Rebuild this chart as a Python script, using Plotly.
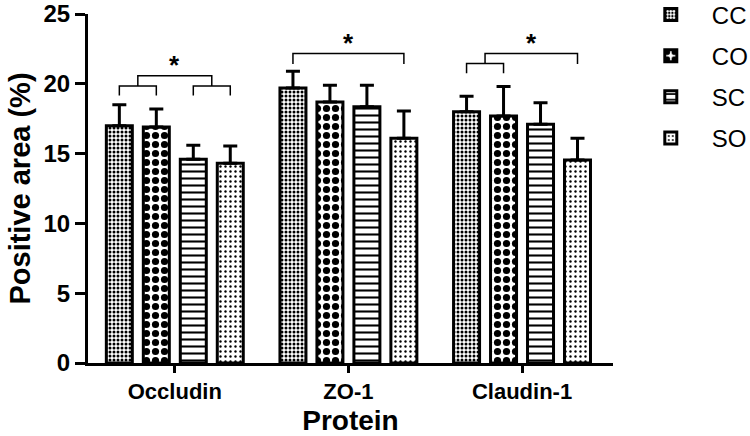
import plotly.graph_objects as go

# ---- data ----
categories = ["Occludin", "ZO-1", "Claudin-1"]
series_names = ["CC", "CO", "SC", "SO"]
cc_vals = [17.0, 19.7, 18.0]
cc_err = [1.5, 1.2, 1.1]
co_vals = [16.9, 18.7, 17.7]
co_err = [1.3, 1.2, 2.1]
sc_vals = [14.6, 18.35, 17.1]
sc_err = [1.0, 1.55, 1.55]
so_vals = [14.3, 16.1, 14.55]
so_err = [1.25, 1.95, 1.55]

# significance brackets: category, left/right bar position (bar index, may be fractional),
# tip heights at each end and height of the horizontal line
br_cat = [0, 0, 0, 1, 2, 2]
br_left = [0, 2, 0.5, 0, 0, 0.5]
br_right = [1, 3, 2.5, 3, 1, 3]
br_left_tip = [19.16, 19.16, 19.85, 21.42, 20.75, 21.46]
br_right_tip = [19.16, 19.16, 19.85, 21.42, 20.75, 21.42]
br_top = [19.85, 19.85, 20.58, 22.17, 21.46, 22.17]
star_cat = [0, 1, 2]
star_pos = [1.5, 1.5, 1.75]
star_y = [20.58, 22.17, 22.17]

# ---- styling ----
BARGAP = 0.148
GROUPGAP = 0.297
NBARS = 4
slot = (1 - BARGAP) / NBARS


def bar_x(cat, k):
    return cat + (k - (NBARS - 1) / 2) * slot


vals = [cc_vals, co_vals, sc_vals, so_vals]
errs = [cc_err, co_err, sc_err, so_err]
patterns = [
    dict(shape=".", size=4, solidity=0.45),
    dict(shape=".", size=9, solidity=0.5),
    dict(shape="-", size=7, solidity=0.3),
    dict(shape=".", size=5, solidity=0.18),
]

FONT = "Arial, Liberation Sans, sans-serif"
fig = go.Figure()
xs = list(range(len(categories)))
for name, v, e, p in zip(series_names, vals, errs, patterns):
    fig.add_trace(go.Bar(
        name=name, x=xs, y=v, legendgroup=name,
        marker=dict(color="white", line=dict(color="black", width=3),
                    pattern=dict(fgcolor="black", bgcolor="white", fillmode="replace", **p)),
        error_y=dict(type="data", array=e, arrayminus=[0] * len(e), symmetric=False,
                     color="black", thickness=3, width=7),
    ))

shapes = []
for c, l, r, lt, rt, t in zip(br_cat, br_left, br_right, br_left_tip, br_right_tip, br_top):
    x0 = bar_x(c, l)
    x1 = bar_x(c, r)
    shapes.append(dict(type="path", xref="x", yref="y",
                       path=f"M {x0},{lt} L {x0},{t} L {x1},{t} L {x1},{rt}",
                       line=dict(color="black", width=1.5)))

annotations = []
for c, k, y in zip(star_cat, star_pos, star_y):
    annotations.append(dict(x=bar_x(c, k), y=y, xref="x", yref="y", text="<b>*</b>",
                            showarrow=False, yanchor="bottom", yshift=-6,
                            font=dict(family=FONT, size=26, color="black")))

fig.update_layout(
    width=750, height=436,
    margin=dict(l=88, r=137, t=14, b=73, autoexpand=False),
    paper_bgcolor="white", plot_bgcolor="white",
    barmode="group", bargap=BARGAP, bargroupgap=GROUPGAP,
    shapes=shapes, annotations=annotations,
    font=dict(family=FONT, color="black"),
    legend=dict(x=1.032, y=1.062, xanchor="left", yanchor="top",
                traceorder="grouped", tracegroupgap=7, itemwidth=72,
                font=dict(family=FONT, size=24, color="black"),
                bgcolor="rgba(0,0,0,0)", borderwidth=0),
    xaxis=dict(range=[-0.5, 2.524], tickmode="array", tickvals=xs, ticktext=categories,
               showline=True, linewidth=3, linecolor="black", showgrid=False, zeroline=False,
               ticks="outside", ticklen=7, tickwidth=3, tickcolor="black", automargin=False,
               tickfont=dict(family=FONT, size=22, weight="bold"),
               title=dict(text="Protein", font=dict(family=FONT, size=28, weight="bold"), standoff=16)),
    yaxis=dict(range=[0, 25], tickmode="array", tickvals=[0, 5, 10, 15, 20, 25],
               showline=True, linewidth=3, linecolor="black", showgrid=False, zeroline=False,
               ticks="outside", ticklen=10, tickwidth=3, tickcolor="black", automargin=False,
               ticklabeloverflow="allow",
               tickfont=dict(family=FONT, size=24, weight="bold"),
               title=dict(text="Positive area (%)", font=dict(family=FONT, size=29, weight="bold"), standoff=5)),
)

fig.write_html("out.html")
